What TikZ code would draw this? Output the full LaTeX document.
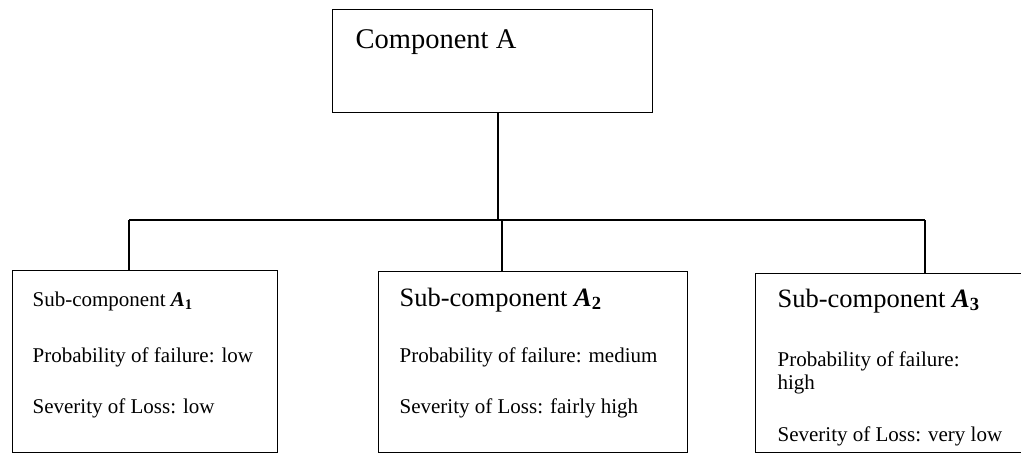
\documentclass[tikz,border=0pt]{standalone}
\usepackage{fontspec}
\setmainfont{Liberation Serif}

\newcommand\bodyfs{\fontsize{21}{25}\selectfont}
\newcommand\subfs{\fontsize{26.5}{31}\selectfont}
\newcommand\topfs{\fontsize{28.5}{34}\selectfont}
\newcommand\Asub[1]{{\bfseries\itshape A}\textsubscript{\bfseries #1}}

\tikzset{
  box/.style={draw, line width=1.3pt, anchor=north west, inner sep=0pt},
  txt/.style={anchor=base west, inner sep=0pt},
}

\begin{document}
\begin{tikzpicture}[x=1pt, y=-1pt, line width=1.3pt]
\useasboundingbox (0,0) rectangle (1021,453);

% The frames go first, the text sits on top of them.
\node[box, minimum width=320pt, minimum height=103pt]   (compA) at (332,9) {};
\node[box, minimum width=265pt, minimum height=181.5pt] (subA1) at (12,270) {};
\node[box, minimum width=309pt, minimum height=180.5pt] (subA2) at (378,271) {};
\node[box, minimum width=270pt, minimum height=178.5pt] (subA3) at (755,273) {};

% Text, one node per printed line.
\node[txt, font=\topfs] (tA) at (355,48) {Component A};

\node[txt, font=\bodyfs] (tA1) at (32,306) {Sub-component \Asub{1}};
\node[txt, font=\bodyfs] (pA1) at (32,362) {Probability of failure: low};
\node[txt, font=\bodyfs] (sA1) at (32,413) {Severity of Loss: low};

\node[txt, font=\subfs]  (tA2) at (399,306) {Sub-component \Asub{2}};
\node[txt, font=\bodyfs] (pA2) at (399,362) {Probability of failure: medium};
\node[txt, font=\bodyfs] (sA2) at (399,413) {Severity of Loss: fairly high};

\node[txt, font=\subfs]  (tA3) at (777,307) {Sub-component \Asub{3}};
\node[txt, font=\bodyfs] (pA3) at (777,366) {Probability of failure:};
\node[txt, font=\bodyfs] (hA3) at (777,389) {high};
\node[txt, font=\bodyfs] (sA3) at (777,441) {Severity of Loss: very low};

% Junctions on the bar.
\coordinate (jt) at (498,220);
\coordinate (jl) at (129,220);
\coordinate (jm) at (502,220);
\coordinate (jr) at (925,220);

\draw
  (compA.south -| jt) -- (jt)
  (jl) -- (jr)
  % drops to the sub-components
  \foreach \j/\s in {jl/subA1, jm/subA2, jr/subA3}
  { (\j) -- (\j |- \s.north) }
;
\end{tikzpicture}
\end{document}
